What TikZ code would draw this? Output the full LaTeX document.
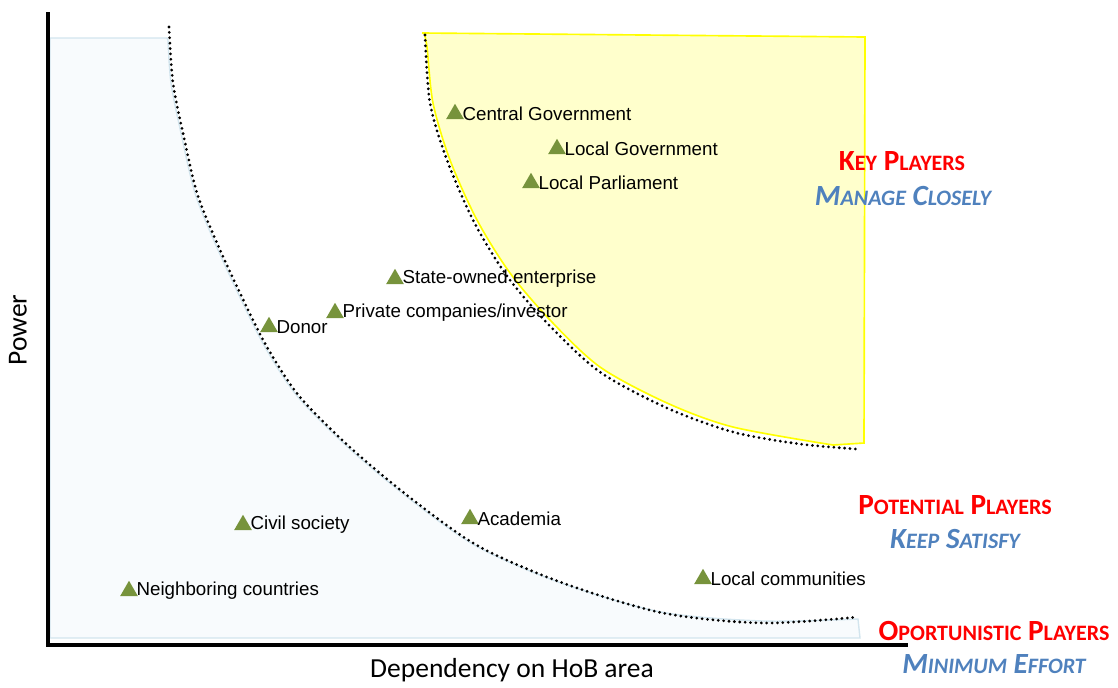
\documentclass[tikz,border=0pt]{standalone}
\usepackage{fontspec}
\setmainfont{Liberation Sans}
\newfontfamily\calfont{Carlito}
\usetikzlibrary{positioning, shapes.geometric}
\definecolor{keyred}{HTML}{FF0000}
\definecolor{advblue}{HTML}{4F81BD}
\definecolor{markgreen}{HTML}{77933C}
\definecolor{lowfill}{HTML}{F8FBFD}
\definecolor{lowedge}{HTML}{D3E5EE}
\definecolor{keyfill}{HTML}{FFFFCC}
\definecolor{keyedge}{HTML}{FFFF00}
\newcommand{\fsc}[2]{#1{\fontsize{18.8}{22}\selectfont #2}}
\tikzset{%
  axis/.style={line width=3.4pt},
  bound/.style={line width=2.6pt, dash pattern=on 0pt off 4.6pt, line cap=round},
  lowzone/.style={fill=lowfill, draw=lowedge, line width=1.2pt},
  keyzone/.style={fill=keyfill, draw=keyedge, line width=1.4pt},
  actor/.style={regular polygon, regular polygon sides=3, fill=markgreen, inner sep=0pt, minimum size=17.5pt},
  who/.style={font=\fontsize{16}{19}\selectfont, inner sep=0pt},
  zone/.style={font=\calfont\bfseries\fontsize{25}{29}\selectfont, text=keyred, inner sep=0pt},
  todo/.style={font=\calfont\bfseries\itshape\fontsize{25}{29}\selectfont, text=advblue, inner sep=0pt},
  axlabel/.style={font=\calfont\fontsize{23.5}{27}\selectfont, inner sep=0pt}
}

\begin{document}
\begin{tikzpicture}[x=0.03cm, y=-0.03cm]
  \useasboundingbox (0,0) rectangle (1118,687);

  % stakeholder zones
  \filldraw[lowzone] (50,38) -- (167,38) -- plot[smooth] coordinates {(168,40) (171,83) (181,133) (195,193) (215,243) (238,293) (265,347) (298,397) (351,450) (415,503) (478,547) (561,583) (661,612) (763,621) (858,619)}
    -- (860,638) -- (50,638) -- cycle;
  \filldraw[keyzone] (422,33) -- (865,37) -- (864,443) -- plot[smooth] coordinates {(833,445) (733,427) (667,403) (600,367) (550,320) (510,273) (477,220) (450,160) (433,103) (427,47) (424,33)} -- cycle;

  % boundaries
  \draw[bound] plot[smooth] coordinates {(169,27) (173,83) (183,133) (197,193) (217,243) (240,293) (267,347) (300,397) (353,450) (417,503) (480,547) (563,583) (663,613) (763,623) (858,617)};
  \draw[bound] plot[smooth] coordinates {(425,35) (430,103) (447,160) (474,222) (507,276) (548,324) (600,372) (667,408) (733,432) (800,444) (857,449)};

  % axes
  \draw[axis] (48,12) -- (48,645) -- (908,645);
  \node[axlabel, rotate=90] (pw)  at (18,330)  {Power};
  \node[axlabel]            (dep) at (512,670) {Dependency on HoB area};

  % stakeholders
  \node[actor] (cg) at (455,114) {};
  \node[actor] (lg) at (557,149) {};
  \node[actor] (lp) at (531,183) {};
  \node[actor] (se) at (395,279) {};
  \node[actor] (pc) at (335,313) {};
  \node[actor] (dn) at (269,327) {};
  \node[actor] (cs) at (243,525) {};
  \node[actor] (ac) at (470,519) {};
  \node[actor] (nc) at (129,591) {};
  \node[actor] (lc) at (703,579) {};
  \node[who] (cgt) [right=1pt of cg] {Central Government};
  \node[who] (lgt) [right=1pt of lg] {Local Government};
  \node[who] (lpt) [right=1pt of lp] {Local Parliament};
  \node[who] (set) [right=1pt of se] {State-owned enterprise};
  \node[who] (pct) [right=1pt of pc] {Private companies/investor};
  \node[who] (dnt) [right=1pt of dn] {Donor};
  \node[who] (cst) [right=1pt of cs] {Civil society};
  \node[who] (act) [right=1pt of ac] {Academia};
  \node[who] (nct) [right=1pt of nc] {Neighboring countries};
  \node[who] (lct) [right=1pt of lc] {Local communities};

  % strategies
  \node[zone] (kp)  at (902,161) {\fsc{K}{EY} \fsc{P}{LAYERS}};
  \node[todo] (kpa) at (903,196) {\fsc{M}{ANAGE} \fsc{C}{LOSELY}};
  \node[zone] (pp)  at (955,505) {\fsc{P}{OTENTIAL} \fsc{P}{LAYERS}};
  \node[todo] (ppa) at (955,539) {\fsc{K}{EEP} \fsc{S}{ATISFY}};
  \node[zone] (op)  at (994,631) {\fsc{O}{PORTUNISTIC} \fsc{P}{LAYERS}};
  \node[todo] (opa) at (994,664) {\fsc{M}{INIMUM} \fsc{E}{FFORT}};
\end{tikzpicture}
\end{document}
